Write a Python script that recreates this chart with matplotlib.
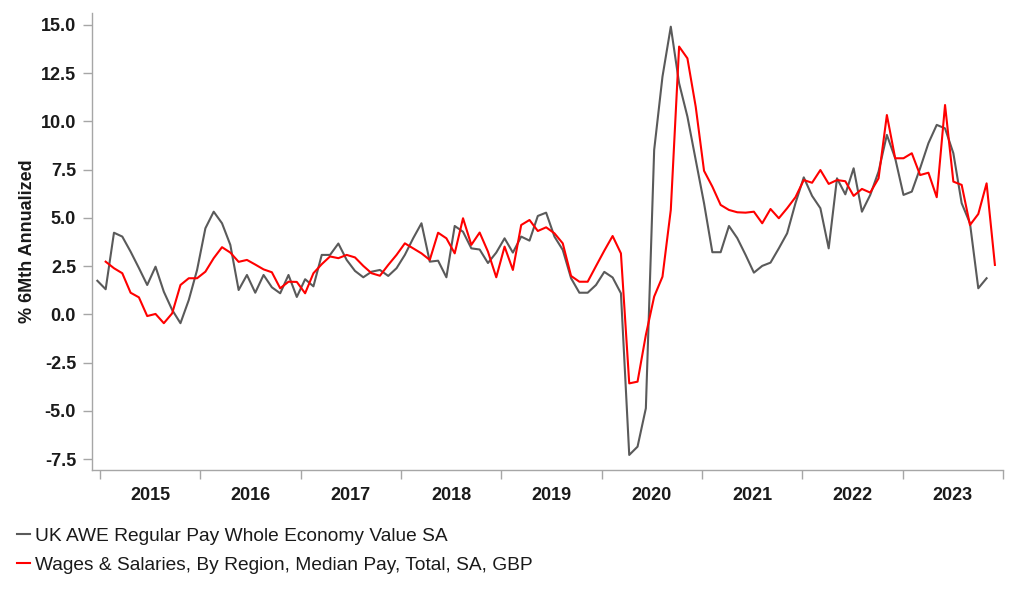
import numpy as np
import matplotlib
matplotlib.use("Agg")
import matplotlib.pyplot as plt
from matplotlib.ticker import FixedLocator, FixedFormatter, FuncFormatter

plt.rcParams['font.family'] = ['Liberation Sans', 'DejaVu Sans']

# ---------------- data ----------------
years = ['2015', '2016', '2017', '2018', '2019', '2020', '2021', '2022', '2023']
y_ticks = [-7.5, -5.0, -2.5, 0.0, 2.5, 5.0, 7.5, 10.0, 12.5, 15.0]
y_label = '% 6Mth Annualized'

awe_label = 'UK AWE Regular Pay Whole Economy Value SA'
awe_values = [
    1.74, 1.30, 4.23, 4.03, 3.25, 2.40, 1.52, 2.47, 1.17, 0.23,
    -0.46, 0.74, 2.30, 4.46, 5.32, 4.72, 3.60, 1.26, 2.04, 1.12,
    2.04, 1.40, 1.09, 2.04, 0.90, 1.82, 1.45, 3.08, 3.08, 3.67,
    2.82, 2.25, 1.92, 2.21, 2.30, 1.99, 2.39, 3.08, 3.94, 4.72,
    2.73, 2.78, 1.92, 4.58, 4.28, 3.42, 3.36, 2.66, 3.20, 3.94,
    3.20, 4.03, 3.82, 5.10, 5.27, 4.03, 3.34, 1.87, 1.12, 1.12,
    1.52, 2.20, 1.91, 1.09, -7.29, -6.86, -4.87, 8.52, 12.32, 14.91,
    11.98, 10.25, 8.00, 5.76, 3.22, 3.22, 4.58, 3.95, 3.08, 2.16,
    2.51, 2.68, 3.42, 4.20, 5.76, 7.10, 6.14, 5.50, 3.42, 7.05,
    6.22, 7.57, 5.32, 6.19, 7.40, 9.30, 8.09, 6.19, 6.36, 7.57,
    8.87, 9.82, 9.64, 8.35, 5.76, 4.72, 1.35, 1.87,
]

med_label = 'Wages & Salaries, By Region, Median Pay, Total, SA, GBP'
med_values = [
    2.73, 2.39, 2.13, 1.12, 0.88, -0.09, 0.02, -0.46, 0.05, 1.52,
    1.87, 1.87, 2.21, 2.91, 3.48, 3.20, 2.72, 2.82, 2.58, 2.33,
    2.18, 1.35, 1.69, 1.68, 1.09, 2.13, 2.60, 3.00, 2.91, 3.08,
    2.95, 2.51, 2.13, 2.00, 2.56, 3.08, 3.68, 3.42, 3.16, 2.82,
    4.23, 3.94, 3.16, 4.98, 3.60, 4.24, 3.25, 1.92, 3.51, 2.30,
    4.63, 4.89, 4.32, 4.51, 4.20, 3.68, 1.99, 1.69, 1.69, 2.50,
    3.30, 4.06, 3.16, -3.58, -3.49, -1.07, 0.92, 1.95, 5.41, 13.88,
    13.27, 10.76, 7.44, 6.62, 5.67, 5.41, 5.29, 5.27, 5.32, 4.72,
    5.46, 4.98, 5.50, 6.07, 6.96, 6.82, 7.48, 6.76, 6.96, 6.90,
    6.14, 6.50, 6.31, 7.05, 10.33, 8.09, 8.09, 8.35, 7.22, 7.34,
    6.07, 10.85, 6.88, 6.71, 4.63, 5.20, 6.79, 2.56,
]

# x positions in months since Jan 2015 (monthly observations)
step = 0.994
awe_start = -0.32
med_start = awe_start + step
awe_x = awe_start + step * np.arange(len(awe_values))
med_x = med_start + step * np.arange(len(med_values))

# ---------------- figure ----------------
W, H = 1022, 597
fig = plt.figure(figsize=(W / 100, H / 100), dpi=100)
ax = fig.add_axes([92 / W, 1 - 470 / H, (1003 - 92) / W, (470 - 13) / H])

spine_col = '#a6a6a6'
text_col = '#1a1a1a'

l1, = ax.plot(awe_x, awe_values, color='#5a5a5a', lw=1.5, solid_joinstyle='round')
l2, = ax.plot(med_x, med_values, color='#ff0000', lw=1.5, solid_joinstyle='round')

ax.set_xlim(-0.96, 108.0)
ax.set_ylim(-8.07, 15.62)

for s in ['top', 'right']:
    ax.spines[s].set_visible(False)
for s in ['left', 'bottom']:
    ax.spines[s].set_color(spine_col)
    ax.spines[s].set_linewidth(1.0)

# y axis
ax.yaxis.set_major_locator(FixedLocator(y_ticks))
ax.yaxis.set_major_formatter(FuncFormatter(lambda v, p: f'{v:.1f}'))
ax.tick_params(axis='y', which='major', direction='out', length=6.5, width=1.0,
               color=spine_col, labelsize=13, labelcolor=text_col, pad=5)

# x axis: ticks at year boundaries, labels centred within each year
n_years = len(years)
ax.xaxis.set_major_locator(FixedLocator([12 * k for k in range(n_years + 1)]))
ax.xaxis.set_major_formatter(FixedFormatter([''] * (n_years + 1)))
ax.xaxis.set_minor_locator(FixedLocator([12 * k + 6 for k in range(n_years)]))
ax.xaxis.set_minor_formatter(FixedFormatter(years))
ax.tick_params(axis='x', which='major', direction='out', length=6.5, width=1.0,
               color=spine_col)
ax.tick_params(axis='x', which='minor', length=0, labelsize=13,
               labelcolor=text_col, pad=12)

for t in ax.get_yticklabels() + ax.get_xticklabels(minor=True):
    t.set_fontweight('bold')

ax.set_ylabel(y_label, fontsize=13, color=text_col, fontweight='bold')
ax.yaxis.set_label_coords((36 - 92) / (1003 - 92), 0.5)

fs = 13.8
px = fs * 100 / 72
leg = fig.legend([l1, l2], [awe_label, med_label], loc='upper left',
                 bbox_to_anchor=(17 / W, 1 - 527.5 / H), frameon=False,
                 fontsize=fs, handlelength=13 / px,
                 handletextpad=5 / px, borderpad=0,
                 borderaxespad=0, labelspacing=0.59)
for t in leg.get_texts():
    t.set_color(text_col)

fig.savefig('out.png', dpi=100)
